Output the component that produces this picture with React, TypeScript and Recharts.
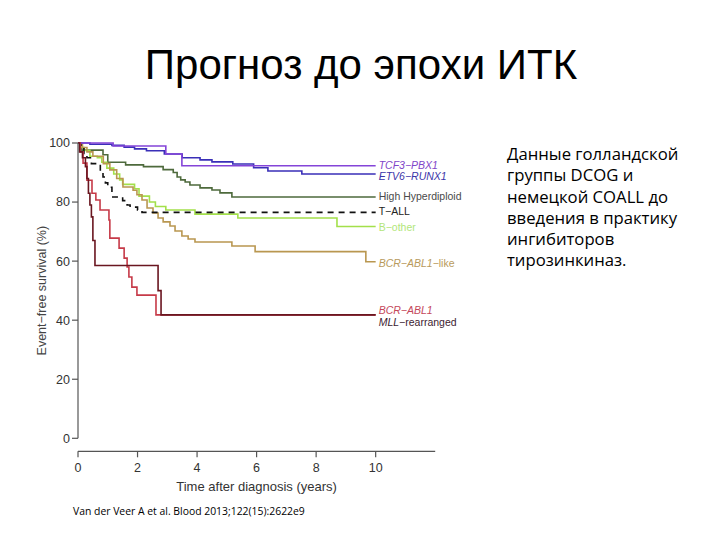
import React from 'react';
import { LineChart, Line, XAxis, YAxis } from 'recharts';

// ---------- data ----------
const xTicks = [0, 2, 4, 6, 8, 10];
const yTicks = [0, 20, 40, 60, 80, 100];

const tcf3Pbx1 = [
  { t: 0, s: 100 }, { t: 1.18, s: 99 }, { t: 2.95, s: 96.3 }, { t: 3.49, s: 92.3 }, { t: 10, s: 92.3 },
];
const etv6Runx1 = [
  { t: 0, s: 100 }, { t: 0.4, s: 99.6 }, { t: 1.14, s: 99.2 }, { t: 1.55, s: 98.6 }, { t: 1.9, s: 98 },
  { t: 2.3, s: 97.4 }, { t: 2.9, s: 96.3 }, { t: 3.5, s: 95 }, { t: 4.1, s: 94.3 }, { t: 4.5, s: 93.6 },
  { t: 5.2, s: 92.9 }, { t: 5.9, s: 91.6 }, { t: 6.38, s: 90.5 }, { t: 7.52, s: 89.5 }, { t: 10, s: 89.5 },
];
const highHyperdiploid = [
  { t: 0, s: 100 }, { t: 0.07, s: 98.5 }, { t: 0.13, s: 97.6 }, { t: 0.84, s: 96 }, { t: 1.0, s: 93.5 },
  { t: 1.6, s: 92.6 }, { t: 2.2, s: 92 }, { t: 2.86, s: 91 }, { t: 3.2, s: 90 }, { t: 3.33, s: 88.5 },
  { t: 3.45, s: 87.5 }, { t: 3.6, s: 86.8 }, { t: 3.76, s: 85.8 }, { t: 4.1, s: 84.8 }, { t: 4.5, s: 84.1 },
  { t: 4.77, s: 83.1 }, { t: 5.17, s: 81.7 }, { t: 10, s: 81.7 },
];
const tAll = [
  { t: 0, s: 100 }, { t: 0.1, s: 98 }, { t: 0.2, s: 96.5 }, { t: 0.3, s: 95 }, { t: 0.45, s: 93 },
  { t: 0.75, s: 90.5 }, { t: 0.84, s: 88.5 }, { t: 0.92, s: 86.5 }, { t: 1.0, s: 85 }, { t: 1.14, s: 81.7 },
  { t: 1.5, s: 80.5 }, { t: 1.65, s: 79 }, { t: 1.75, s: 78.3 }, { t: 2.0, s: 77.3 }, { t: 2.15, s: 76.5 },
  { t: 10, s: 76.5 },
];
const bOther = [
  { t: 0, s: 100 }, { t: 0.1, s: 98.5 }, { t: 0.2, s: 97.5 }, { t: 0.4, s: 95.5 }, { t: 0.65, s: 95 },
  { t: 0.8, s: 93.5 }, { t: 0.97, s: 91.5 }, { t: 1.2, s: 89.5 }, { t: 1.4, s: 87.5 }, { t: 1.5, s: 86 },
  { t: 1.9, s: 84.5 }, { t: 2.05, s: 82 }, { t: 2.4, s: 80 }, { t: 2.6, s: 78.5 }, { t: 2.95, s: 77.3 },
  { t: 3.93, s: 75.9 }, { t: 5.37, s: 74.6 }, { t: 8.7, s: 71.7 }, { t: 10, s: 71.7 },
];
const bcrAbl1Like = [
  { t: 0, s: 100 }, { t: 0.15, s: 98.5 }, { t: 0.3, s: 97 }, { t: 0.5, s: 95.5 }, { t: 0.85, s: 93 },
  { t: 1.07, s: 90.9 }, { t: 1.3, s: 88 }, { t: 1.51, s: 85.1 }, { t: 1.85, s: 84 }, { t: 1.98, s: 82.5 },
  { t: 2.15, s: 80.7 }, { t: 2.32, s: 78 }, { t: 2.52, s: 76.3 }, { t: 2.69, s: 74.6 }, { t: 2.86, s: 73.3 },
  { t: 3.09, s: 71.9 }, { t: 3.26, s: 70.2 }, { t: 3.49, s: 68.5 }, { t: 3.7, s: 67.5 }, { t: 3.93, s: 66.5 },
  { t: 5.17, s: 65.1 }, { t: 5.95, s: 63.2 }, { t: 9.67, s: 59.8 }, { t: 10, s: 59.8 },
];
const bcrAbl1 = [
  { t: 0, s: 100 }, { t: 0.08, s: 97 }, { t: 0.17, s: 93.2 }, { t: 0.3, s: 87.4 }, { t: 0.47, s: 83 },
  { t: 0.6, s: 80.7 }, { t: 0.74, s: 77.3 }, { t: 1.04, s: 73.9 }, { t: 1.07, s: 67.8 }, { t: 1.38, s: 64.4 },
  { t: 1.55, s: 61 }, { t: 1.65, s: 58 }, { t: 1.71, s: 54.6 }, { t: 1.81, s: 51.2 }, { t: 1.98, s: 48.5 },
  { t: 2.62, s: 41.8 }, { t: 10, s: 41.8 },
];
const mllRearranged = [
  { t: 0, s: 100 }, { t: 0.05, s: 97 }, { t: 0.15, s: 95 }, { t: 0.25, s: 92 }, { t: 0.3, s: 88 },
  { t: 0.35, s: 83 }, { t: 0.4, s: 79 }, { t: 0.45, s: 75 }, { t: 0.5, s: 67 }, { t: 0.57, s: 58.5 },
  { t: 2.69, s: 50 }, { t: 2.79, s: 41.8 }, { t: 10, s: 41.8 },
];

// ---------- styling ----------
const FONT = '"Liberation Sans", Arial, Helvetica, sans-serif';

type Part = { text: string; italic?: boolean };
type Series = {
  key: string; data: { t: number; s: number }[]; color: string; labelColor: string;
  dash?: string; labelDy: number; parts: Part[];
};

const series: Series[] = [
  { key: 'hh', data: highHyperdiploid, color: '#4e6a3c', labelColor: '#4a4a4a', labelDy: -1,
    parts: [{ text: 'High Hyperdiploid' }] },
  { key: 'bo', data: bOther, color: '#a3e04a', labelColor: '#b2e67a', labelDy: 0,
    parts: [{ text: 'B−other' }] },
  { key: 'bal', data: bcrAbl1Like, color: '#b99750', labelColor: '#b89a5c', labelDy: 1,
    parts: [{ text: 'BCR−ABL1', italic: true }, { text: '−like' }] },
  { key: 'tall', data: tAll, color: '#111111', labelColor: '#222222', dash: '6 5', labelDy: -1,
    parts: [{ text: 'T−ALL' }] },
  { key: 'etv', data: etv6Runx1, color: '#3a2fb8', labelColor: '#3a34a8', labelDy: 2,
    parts: [{ text: 'ETV6−RUNX1', italic: true }] },
  { key: 'tcf', data: tcf3Pbx1, color: '#8444d8', labelColor: '#7f45c8', labelDy: -1,
    parts: [{ text: 'TCF3−PBX1', italic: true }] },
  { key: 'bcr', data: bcrAbl1, color: '#c63a48', labelColor: '#c4475a', labelDy: -5,
    parts: [{ text: 'BCR−ABL1', italic: true }] },
  { key: 'mll', data: mllRearranged, color: '#6a1620', labelColor: '#3c2230', labelDy: 7,
    parts: [{ text: 'MLL', italic: true }, { text: '−rearranged' }] },
];

const XTick = (p: any) => (
  <g>
    <line x1={p.x} x2={p.x} y1={p.y + 13} y2={p.y + 19} stroke="#555" strokeWidth={1.2} />
    <text x={p.x} y={p.y + 34} textAnchor="middle" fontSize={12.5} fill="#333" fontFamily={FONT}>
      {p.payload.value}
    </text>
  </g>
);

const makeEndLabel = (s: Series) => (p: any) => {
  if (p.index !== s.data.length - 1) return null;
  return (
    <text x={p.x + 3} y={p.y + s.labelDy} dominantBaseline="central" fontSize={10.5}
      fill={s.labelColor} fontFamily={FONT}>
      {s.parts.map((pt, i) => (
        <tspan key={i} fontStyle={pt.italic ? 'italic' : 'normal'}>{pt.text}</tspan>
      ))}
    </text>
  );
};

export default function App() {
  return (
    <div style={{ position: 'absolute', left: 0, top: 0, width: 720, height: 540, background: '#fff' }}>
      <div style={{
        position: 'absolute', left: 0, width: 722, top: 40, textAlign: 'center',
        fontFamily: FONT, fontSize: 42, color: '#000', lineHeight: '50px',
      }}>
        Прогноз до эпохи ИТК
      </div>
      <div style={{
        position: 'absolute', left: 507, top: 143, width: 210,
        fontFamily: '"Open Sans", "Noto Sans", sans-serif', fontSize: 16.7, lineHeight: '21.3px', color: '#000',
      }}>
        Данные голландской<br />группы DCOG и<br />немецкой COALL до<br />введения в практику<br />ингибиторов<br />тирозинкиназ.
      </div>
      <div style={{
        position: 'absolute', left: 73, top: 504, fontFamily: '"Open Sans", "Noto Sans", sans-serif',
        fontSize: 10.4, color: '#000', whiteSpace: 'nowrap',
      }}>
        Van der Veer A et al. Blood 2013;122(15):2622e9
      </div>
      <div style={{ position: 'absolute', left: 0, top: 0 }}>
        <LineChart width={720} height={540} margin={{ top: 143, right: 284.8, left: 38, bottom: 71.7 }}>
          <XAxis
            type="number" dataKey="t" domain={[0, 12]} ticks={xTicks} allowDataOverflow
            tickSize={0} tickMargin={0} tickLine={false} height={30}
            axisLine={{ stroke: '#555', strokeWidth: 1.2, transform: 'translate(0,13)' } as any}
            tick={<XTick />}
            label={{ value: 'Time after diagnosis (years)', position: 'bottom', offset: 13, fontSize: 13, fill: '#333', fontFamily: FONT }}
          />
          <YAxis
            type="number" domain={[0, 100]} ticks={yTicks} width={40}
            tickSize={6} tickMargin={2} stroke="#555"
            axisLine={{ stroke: '#555', strokeWidth: 1.2 }} tickLine={{ stroke: '#555', strokeWidth: 1.2 }}
            tick={{ fill: '#333', fontSize: 12.5, fontFamily: FONT }}
            label={{ value: 'Event−free survival (%)', angle: -90, position: 'insideLeft', offset: 4,
              style: { textAnchor: 'middle' }, fontSize: 12.5, fill: '#444', fontFamily: FONT }}
          />
          {series.map((s) => (
            <Line
              key={s.key} data={s.data} dataKey="s" type="stepAfter" stroke={s.color}
              strokeWidth={1.6} strokeDasharray={s.dash} dot={false} activeDot={false}
              isAnimationActive={false} label={makeEndLabel(s)}
            />
          ))}
        </LineChart>
      </div>
    </div>
  );
}
